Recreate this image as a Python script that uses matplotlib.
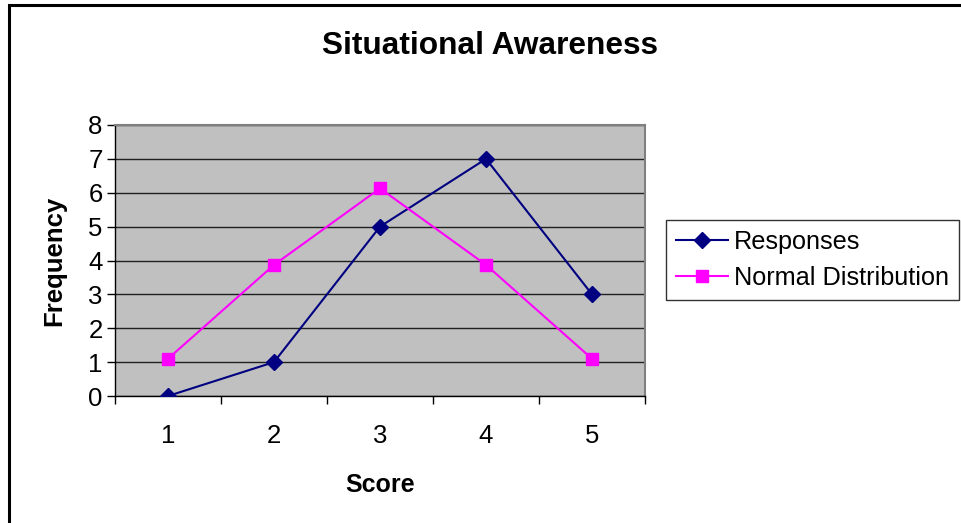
import numpy as np
import matplotlib.pyplot as plt
from matplotlib.patches import Rectangle

plt.rcParams['font.family'] = ['Liberation Sans', 'DejaVu Sans']

# --- data ---
scores = [1, 2, 3, 4, 5]
responses = [0, 1, 5, 7, 3]
normal_dist = [1.1, 3.87, 6.13, 3.87, 1.1]

fig = plt.figure(figsize=(9.61, 5.23), dpi=100)
ax = fig.add_axes([115 / 961, 1 - 396 / 523, 530 / 961, 271 / 523])
ax.set_facecolor('#C0C0C0')

# outer chart border (only top and left visible in the crop)
fig.patches.append(Rectangle((8.5 / 961, -0.05), 1.2, 1.05 - 5.5 / 523,
                             transform=fig.transFigure, fill=False,
                             edgecolor='black', linewidth=2.2, zorder=0))

ax.plot(scores, responses, color='#000080', marker='D', markersize=8,
        linewidth=1.5, label='Responses', zorder=3)
ax.plot(scores, normal_dist, color='#FF00FF', marker='s', markersize=9,
        linewidth=1.5, label='Normal Distribution', zorder=3)

ax.set_xlim(0.5, 5.5)
ax.set_ylim(0, 8)
ax.set_yticks(range(0, 9))
ax.yaxis.grid(True, color='#202020', linewidth=1)
ax.set_axisbelow(True)

# category ticks: labels at centers, tick marks at boundaries
ax.set_xticks(scores)
ax.set_xticks(np.arange(0.5, 6.0, 1.0), minor=True)
ax.tick_params(axis='x', which='major', length=0, pad=20, labelsize=18.5)
ax.tick_params(axis='x', which='minor', length=6, width=1, direction='out')
ax.tick_params(axis='y', length=6, width=1, pad=3, labelsize=18.5)

for side in ['top', 'right']:
    ax.spines[side].set_color('#808080')
    ax.spines[side].set_linewidth(1.5)
for side in ['left', 'bottom']:
    ax.spines[side].set_color('black')
    ax.spines[side].set_linewidth(1)

fig.text(490 / 961, 1 - 46 / 523, 'Situational Awareness', fontsize=22.8,
         fontweight='bold', ha='center', va='center')
ax.set_ylabel('Frequency', fontsize=18.5, fontweight='bold', labelpad=16)
ax.set_xlabel('Score', fontsize=18, fontweight='bold', labelpad=18)

leg = fig.legend(loc='center left', bbox_to_anchor=(666 / 961, 1 - 260 / 523),
                 fontsize=18.2, frameon=True, fancybox=False, edgecolor='black',
                 handlelength=2.05, handletextpad=0.25, labelspacing=0.5,
                 borderpad=0.4, borderaxespad=0)
leg.get_frame().set_linewidth(1)

fig.savefig('out.png', dpi=100)
